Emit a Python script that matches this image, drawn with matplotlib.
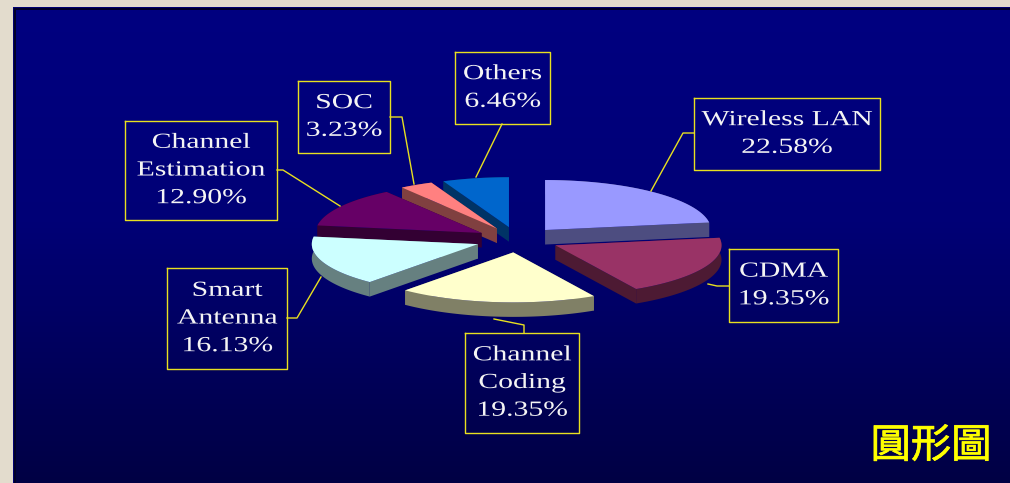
import matplotlib
matplotlib.use('Agg')
import matplotlib.pyplot as plt
from matplotlib.colors import to_rgb
from matplotlib.patheffects import AbstractPathEffect, withStroke
from matplotlib.transforms import Affine2D
import numpy as np

# slice data, clockwise from 12 o'clock
labels = ['Wireless LAN', 'CDMA', 'Channel\nCoding', 'Smart\nAntenna',
          'Channel\nEstimation', 'SOC', 'Others']
percents = [22.58, 19.35, 19.35, 16.13, 12.90, 3.23, 6.46]
colors = ['#9999ff', '#993366', '#ffffcc', '#ccffff', '#660066', '#ff8080', '#0066cc']
title_text = '圓形圖'

# label boxes: left, top, right, bottom
boxes = [(694, 98, 880, 170), (729, 249, 838, 322), (465, 333, 579, 433),
         (167, 268, 287, 369), (125, 121, 277, 220), (298, 81, 390, 153),
         (455, 52, 550, 124)]
leaders = [[(651, 191), (683, 133), (694, 133)],
           [(708, 284), (717, 286), (729, 286)],
           [(494, 319), (524, 325), (524, 333)],
           [(321, 277), (297, 318), (287, 318)],
           [(340, 206), (283, 170), (277, 170)],
           [(414, 184), (402, 117), (390, 117)],
           [(476, 177), (502, 124)]]

# projection of the tilted pie, in pixels
cx, cy = 517.5, 239.7
rx, ry = 166.0, 50.0
explode = 0.255
depth = 14.5


class Stretch(AbstractPathEffect):
    """Widen the glyphs about a fixed x, the slide text is stretched."""

    def __init__(self, x0, sx):
        super().__init__()
        self.x0 = x0
        self.sx = sx

    def draw_path(self, renderer, gc, tpath, affine, rgbFace=None):
        t = Affine2D().translate(-self.x0, 0).scale(self.sx, 1).translate(self.x0, 0)
        renderer.draw_path(gc, tpath, affine + t, rgbFace)


def project(theta, r=1.0):
    return cx + rx * r * np.sin(theta), cy - ry * r * np.cos(theta)


def slice_shapes(start, end):
    mid = 0.5 * (start + end)
    ox, oy = project(mid, explode)
    ox, oy = ox - cx, oy - cy
    t = np.linspace(start, end, 80)
    ax_, ay_ = project(t)
    x = np.concatenate([[cx], ax_]) + ox
    y = np.concatenate([[cy], ay_]) + oy
    return x, y


fig = plt.figure(figsize=(10.10, 4.83), dpi=100, facecolor='#e3dccd')
ax = fig.add_axes([0, 0, 1, 1])
ax.axis('off')

# panel with its dark edge and gradient
ax.fill([13, 1010, 1010, 13], [7, 7, 483, 483], color='#000070', lw=0, zorder=0.2)
ax.fill([14, 1010, 1010, 14], [8, 8, 483, 483], color='#00002a', lw=0, zorder=0.5)
img = np.zeros((256, 1, 3))
img[:, 0, 2] = np.interp(np.linspace(0, 1, 256), [0, 0.45, 1], [128, 118, 68]) / 255.0
ax.imshow(img, extent=(16, 1010, 483, 10), aspect='auto', zorder=1)
ax.set_xlim(0, 1010)
ax.set_ylim(483, 0)

# slices, back to front
edges = np.radians(np.concatenate([[0], np.cumsum(percents) * 360 / np.sum(percents)]))
shapes = []
for i in range(len(percents)):
    x, y = slice_shapes(edges[i], edges[i + 1])
    shapes.append((y.mean(), x, y, colors[i]))
shapes.sort(key=lambda s: s[0])
z = 2
for _, x, y, c in shapes:
    side = tuple(0.5 * v for v in to_rgb(c))
    # arc wall, then the two cut faces
    ax.fill(np.r_[x[1:], x[:0:-1]], np.r_[y[1:], y[:0:-1] + depth], color=side, lw=0, zorder=z)
    ax.fill([x[0], x[1], x[1], x[0]], [y[0], y[1], y[1] + depth, y[0] + depth], color=side, lw=0, zorder=z)
    ax.fill([x[0], x[-1], x[-1], x[0]], [y[0], y[-1], y[-1] + depth, y[0] + depth], color=side, lw=0, zorder=z)
    ax.fill(x, y, color=c, lw=0, zorder=z + 0.5)
    z += 1

# callouts
yellow = '#e8e020'
for text, pct, box, lead in zip(labels, percents, boxes, leaders):
    l, t, r, b = box
    xc = 0.5 * (l + r)
    ax.plot([l, r, r, l, l], [t, t, b, b, t], color=yellow, lw=1.0, zorder=20)
    ax.plot(*zip(*lead), color=yellow, lw=1.0, zorder=20)
    lab = ax.text(xc, 0.5 * (t + b) + 0.5, f'{text}\n{pct:.2f}%', color='#f4f4f4',
                  family='Liberation Serif', fontsize=15.5, ha='center', va='center',
                  linespacing=1.62, zorder=21)
    lab.set_path_effects([Stretch(xc, 1.38)])

ax.text(931, 446, title_text, color='#ffff00', family=['Noto Sans CJK TC', 'DejaVu Sans'],
        fontsize=29, ha='center', va='center', zorder=21,
        path_effects=[withStroke(linewidth=0.5, foreground='#ffff00')])

fig.savefig('out.png', dpi=100, facecolor=fig.get_facecolor())
